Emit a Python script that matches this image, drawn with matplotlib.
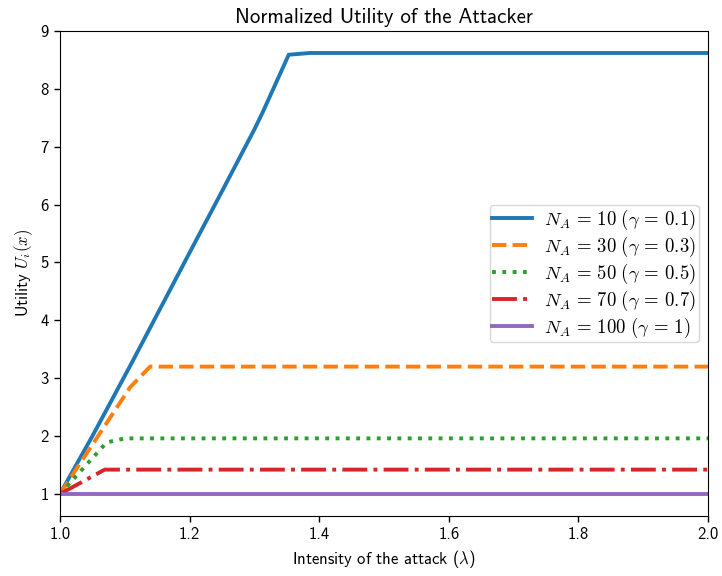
import matplotlib
matplotlib.use("Agg")
import matplotlib.pyplot as plt

plt.rcParams['font.family'] = ['cmss10', 'DejaVu Sans']
plt.rcParams['mathtext.fontset'] = 'cm'
plt.rcParams['axes.unicode_minus'] = False
plt.rcParams['axes.formatter.use_mathtext'] = False

# values
x_10 = [1.0, 1.05, 1.11, 1.2, 1.25, 1.3, 1.313, 1.353, 1.386, 2.0]
y_10 = [1.0, 2.0, 3.25, 5.17, 6.23, 7.3, 7.6, 8.59, 8.62, 8.62]

x_30 = [1.0, 1.108, 1.139, 2.0]
y_30 = [1.0, 2.84, 3.2, 3.2]

x_50 = [1.0, 1.072, 1.1, 2.0]
y_50 = [1.0, 1.89, 1.96, 1.96]

x_70 = [1.0, 1.069, 2.0]
y_70 = [1.0, 1.42, 1.42]

x_100 = [1.0, 2.0]
y_100 = [1.0, 1.0]

labels = [r'$N_A\,=\,10\ (\gamma\,=\,0.1)$',
          r'$N_A\,=\,30\ (\gamma\,=\,0.3)$',
          r'$N_A\,=\,50\ (\gamma\,=\,0.5)$',
          r'$N_A\,=\,70\ (\gamma\,=\,0.7)$',
          r'$N_A\,=\,100\ (\gamma\,=\,1)$']

fig, ax = plt.subplots(figsize=(7.22, 5.76), dpi=100)
fig.subplots_adjust(left=0.0831, right=0.9806, top=0.9462, bottom=0.1042)

lw = 2.8
ax.plot(x_10, y_10, '-', color='#1f77b4', lw=lw, label=labels[0])
ax.plot(x_30, y_30, '--', color='#ff7f0e', lw=lw, label=labels[1])
ax.plot(x_50, y_50, ':', color='#2ca02c', lw=lw, label=labels[2])
ax.plot(x_70, y_70, '-.', color='#d62728', lw=lw, label=labels[3])
ax.plot(x_100, y_100, '-', color='#9467bd', lw=lw, label=labels[4])

ax.set_xlim(1.0, 2.0)
ax.set_ylim(0.619, 9.0)
ax.set_yticks(range(1, 10))
ax.tick_params(labelsize=12, length=4.5, width=1)

ax.set_title('Normalized Utility of the Attacker', fontsize=15)
ax.set_xlabel(r'Intensity of the attack ($\lambda$)', fontsize=12)
ax.set_ylabel(r'Utility $U_i(x)$', fontsize=12)

ax.legend(loc='center right', fontsize=13.5, handlelength=2.1,
          labelspacing=0.15, borderpad=0.15, handletextpad=0.65)

fig.savefig('out.png', dpi=100)
